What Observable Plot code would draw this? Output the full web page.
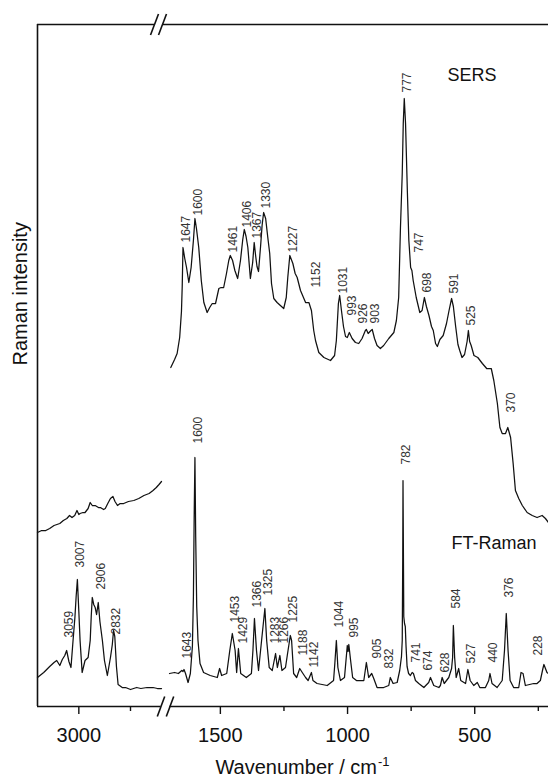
<!DOCTYPE html>
<html>
<head>
<meta charset="utf-8">
<script src="https://cdn.jsdelivr.net/npm/d3@7"></script>
<script src="https://cdn.jsdelivr.net/npm/@observablehq/plot@0.6"></script>
<style>
  body { margin: 0; background: #fff; }
  #chart svg { display: block; }
</style>
</head>
<body>
<div id="chart"></div>
<script>
// Spectra as [wavenumber (cm-1), intensity (a.u.)] pairs.
// FT-Raman, C-H stretching region
const ftRamanHigh = [[3200,29],[3170,34],[3141,40],[3120,44],[3107,46],[3092,41],[3080,47],[3068,51],[3059,56],[3048,45],[3038,39],[3028,66],[3019,89],[3013,110],[3007,127],[3000,95],[2994,66],[2984,34],[2970,46],[2955,49],[2945,66],[2940,90],[2935,109],[2928,102],[2921,99],[2914,92],[2906,104],[2898,85],[2886,66],[2876,46],[2862,31],[2847,49],[2838,62],[2832,76],[2826,70],[2818,40],[2810,22],[2790,19],[2774,19],[2750,17],[2720,19],[2700,18],[2670,19],[2641,19],[2620,18],[2600,18]];
// FT-Raman, fingerprint region
const ftRamanLow = [[1700,33],[1680,34],[1665,33],[1652,36],[1647,35],[1643,37],[1637,33],[1627,24],[1618,33],[1610,60],[1606,110],[1603,190],[1600,249],[1597,170],[1593,100],[1588,66],[1580,43],[1566,34],[1540,31],[1512,29],[1503,38],[1495,31],[1475,33],[1463,56],[1453,73],[1442,56],[1436,34],[1429,58],[1420,33],[1398,29],[1378,33],[1372,56],[1366,88],[1358,56],[1350,36],[1338,66],[1325,98],[1318,66],[1308,39],[1296,36],[1283,53],[1276,39],[1266,51],[1258,36],[1244,39],[1237,51],[1225,71],[1220,66],[1212,33],[1200,29],[1188,38],[1178,34],[1165,29],[1155,26],[1142,34],[1136,26],[1120,23],[1080,21],[1055,26],[1050,43],[1044,66],[1038,39],[1028,26],[1012,29],[1001,61],[998,55],[995,62],[988,46],[980,29],[965,26],[945,26],[936,26],[926,44],[917,29],[905,33],[897,28],[884,19],[858,19],[838,21],[832,29],[821,23],[805,24],[795,36],[788,50],[785,66],[783,150],[782,226],[779,90],[776,83],[773,80],[770,60],[766,40],[760,33],[753,31],[746,34],[741,33],[733,26],[720,23],[700,19],[681,24],[674,29],[661,21],[641,19],[635,21],[628,29],[620,23],[602,29],[591,38],[587,49],[584,81],[579,49],[573,29],[563,38],[555,26],[536,23],[527,37],[518,26],[504,21],[490,24],[480,19],[458,19],[445,26],[440,33],[432,23],[412,19],[392,26],[383,56],[376,93],[369,56],[361,26],[347,19],[327,19],[318,34],[310,33],[301,21],[268,23],[255,23],[242,26],[232,38],[228,42],[222,38],[216,34],[210,33]];
// SERS, C-H stretching region
const sersHigh = [[3200,174],[3180,176],[3160,176],[3141,178],[3120,181],[3092,183],[3075,186],[3058,188],[3045,191],[3033,189],[3020,191],[3009,196],[3000,192],[2994,193],[2980,194],[2970,194],[2955,198],[2945,204],[2935,201],[2921,201],[2905,199],[2896,199],[2880,197],[2872,198],[2860,203],[2847,208],[2835,210],[2825,205],[2813,201],[2800,203],[2783,203],[2760,205],[2734,206],[2710,208],[2685,211],[2660,213],[2641,216],[2625,219],[2612,222],[2600,225]];
// SERS, fingerprint region
const sersLow = [[1695,339],[1680,347],[1670,353],[1660,369],[1653,395],[1650,420],[1647,459],[1640,448],[1633,439],[1624,424],[1615,439],[1606,466],[1600,488],[1594,478],[1585,459],[1575,426],[1565,404],[1552,394],[1542,399],[1532,403],[1519,403],[1506,418],[1497,419],[1487,419],[1476,433],[1467,446],[1461,451],[1452,446],[1443,436],[1432,428],[1421,446],[1412,467],[1406,477],[1399,470],[1392,459],[1382,428],[1373,444],[1367,464],[1361,450],[1356,440],[1350,435],[1342,460],[1336,481],[1330,494],[1322,488],[1314,470],[1306,453],[1299,423],[1290,408],[1277,404],[1264,401],[1251,398],[1241,409],[1235,429],[1227,451],[1215,443],[1206,433],[1198,429],[1185,416],[1165,404],[1152,404],[1142,396],[1133,376],[1126,366],[1113,354],[1093,349],[1067,346],[1051,351],[1044,366],[1036,403],[1031,411],[1024,396],[1016,380],[1008,370],[1001,369],[993,374],[982,368],[969,364],[956,363],[943,368],[930,376],[926,377],[919,373],[908,376],[903,377],[894,368],[884,361],[871,358],[858,361],[838,368],[818,374],[808,386],[799,409],[792,479],[785,533],[781,583],[777,608],[772,583],[765,516],[759,466],[752,439],[747,436],[742,426],[730,409],[716,394],[707,396],[698,409],[690,400],[680,391],[670,380],[663,376],[654,363],[647,360],[637,367],[624,371],[611,383],[601,396],[591,408],[584,400],[575,380],[566,362],[559,356],[550,349],[540,352],[530,365],[525,376],[520,365],[514,361],[503,351],[488,349],[470,343],[453,338],[435,338],[425,326],[411,303],[401,279],[392,273],[379,273],[370,279],[359,269],[349,243],[340,216],[327,208],[313,201],[294,194],[274,191],[255,189],[235,191],[222,188],[210,184]];

// Assigned bands: [wavenumber, intensity level where the label starts]
const sersBands = [[1647,464],[1600,491],[1461,454],[1406,479],[1367,468],[1330,498],[1227,454],[1152,419],[1031,413],[993,391],[926,383],[903,383],[777,614],[747,454],[698,414],[591,413],[525,381],[370,294]];
const ftRamanBands = [[3059,69],[3007,139],[2906,117],[2832,72],[1643,48],[1600,263],[1453,84],[1429,63],[1366,99],[1325,111],[1283,63],[1266,63],[1225,84],[1188,51],[1142,39],[1044,79],[995,69],[905,48],[832,38],[782,242],[741,44],[674,36],[628,34],[584,98],[527,43],[440,44],[376,109],[228,51]];

// Axis ticks (cm-1)
const majorTicks = [3000, 1500, 1000, 500];
const minorTicks = [2750, 1250, 750, 250];

// Broken wavenumber axis: two reversed ranges separated by a small gap
const axisParts = [[3200, 2600], [1700, 210]];
const partWidths = [124, 379];
const gapWidth = 8;
const axisLength = partWidths[0] + gapWidth + partWidths[1];
const gapCenter = partWidths[0] + gapWidth / 2;
function pos(w) {
  const [a0, a1] = axisParts[0];
  if (w >= (axisParts[0][1] + axisParts[1][0]) / 2) return (a0 - w) / (a0 - a1) * partWidths[0];
  const [b0, b1] = axisParts[1];
  return partWidths[0] + gapWidth + (b0 - w) / (b0 - b1) * partWidths[1];
}

// labels sit just right of their band; a few crowded ones get an extra nudge (px)
const labelShift = 3;
const labelNudge = {
  sers: {1152: 4, 926: -6, 747: 4},
  ft: {1429: 2, 1283: -3, 1266: 1, 995: 2, 905: 2, 832: -4, 674: -5, 228: -9}
};

const toRows = (pairs, series, part) => pairs.map(([w, v]) => ({x: pos(w), v, key: series + part}));
const spectra = [
  ...toRows(ftRamanHigh, "ft", 0), ...toRows(ftRamanLow, "ft", 1),
  ...toRows(sersHigh, "sers", 0), ...toRows(sersLow, "sers", 1)
];
const bandRows = [
  ...sersBands.map(([w, v]) => ({x: pos(w), v, text: String(w), dx: labelShift + (labelNudge.sers[w] || 0)})),
  ...ftRamanBands.map(([w, v]) => ({x: pos(w), v, text: String(w), dx: labelShift + (labelNudge.ft[w] || 0)}))
];
// dx is a constant per text mark, so build one mark per offset
const bandLabelMarks = Array.from(d3.group(bandRows, d => d.dx), ([dx, rows]) =>
  Plot.text(rows, {
    x: "x", y: "v", text: "text", dx, rotate: -90,
    textAnchor: "start", lineAnchor: "middle", fontSize: 12, fill: "#333"
  })
);

const yTop = 682;
const tickLabel = new Map(majorTicks.map(t => [pos(t), String(t)]));

// frame lines, interrupted at the axis break
const frameSegments = [
  {y: yTop, x1: 0, x2: gapCenter - 11}, {y: yTop, x1: gapCenter - 3, x2: axisLength},
  {y: 0, x1: 0, x2: gapCenter - 4.5}, {y: 0, x1: gapCenter + 4.5, x2: axisLength}
];
const slash = (c, base, hx, hy) => ({x1: c - hx, y1: base - hy, x2: c + hx, y2: base + hy});
const breakSlashes = [
  slash(gapCenter - 11, yTop, 4, 10.5), slash(gapCenter - 3, yTop, 4, 10.5),
  slash(gapCenter - 4.5, 0, 3.7, 10), slash(gapCenter + 4.5, 0, 3.7, 10)
];

const ink = "#111";
const font = "'Liberation Sans', Arial, Helvetica, sans-serif";

const chart = Plot.plot({
  width: 548,
  height: 778,
  marginLeft: 37,
  marginRight: 0,
  marginTop: 24,
  marginBottom: 72,
  style: {fontFamily: font, background: "#fff", overflow: "visible"},
  x: {domain: [0, axisLength]},
  y: {domain: [0, yTop], axis: null},
  marks: [
    Plot.ruleX([0], {y1: 0, y2: yTop, stroke: ink, strokeWidth: 1.6}),
    Plot.ruleY(frameSegments, {y: "y", x1: "x1", x2: "x2", stroke: ink, strokeWidth: 1.6}),
    Plot.link(breakSlashes, {x1: "x1", y1: "y1", x2: "x2", y2: "y2", stroke: ink, strokeWidth: 1.6}),
    Plot.axisX(majorTicks.map(pos), {
      tickSize: 8, tickPadding: 13, tickFormat: d => tickLabel.get(d),
      fontSize: 20, color: ink, strokeWidth: 1.4, label: null
    }),
    Plot.axisX(minorTicks.map(pos), {
      tickSize: 5, tickFormat: () => "", color: ink, strokeWidth: 1.4, label: null
    }),
    Plot.line(spectra, {x: "x", y: "v", z: "key", stroke: "#111", strokeWidth: 1.25, strokeLinejoin: "round"}),
    ...bandLabelMarks,
    Plot.text(["SERS"], {x: pos(511), y: 631, textAnchor: "middle", lineAnchor: "middle", fontSize: 18, fill: ink}),
    Plot.text(["FT-Raman"], {x: pos(424), y: 163, textAnchor: "middle", lineAnchor: "middle", fontSize: 18, fill: ink}),
    Plot.text(["Raman intensity"], {frameAnchor: "left", rotate: -90, dx: -17, fontSize: 20, fill: ink}),
    Plot.text(["Wavenumber / cm"], {frameAnchor: "bottom", textAnchor: "end", lineAnchor: "bottom", dx: 84, dy: 67, fontSize: 20, fill: ink}),
    Plot.text(["-1"], {frameAnchor: "bottom", textAnchor: "start", lineAnchor: "bottom", dx: 85, dy: 59, fontSize: 13, fill: ink})
  ]
});

document.getElementById("chart").append(chart);
</script>
</body>
</html>
